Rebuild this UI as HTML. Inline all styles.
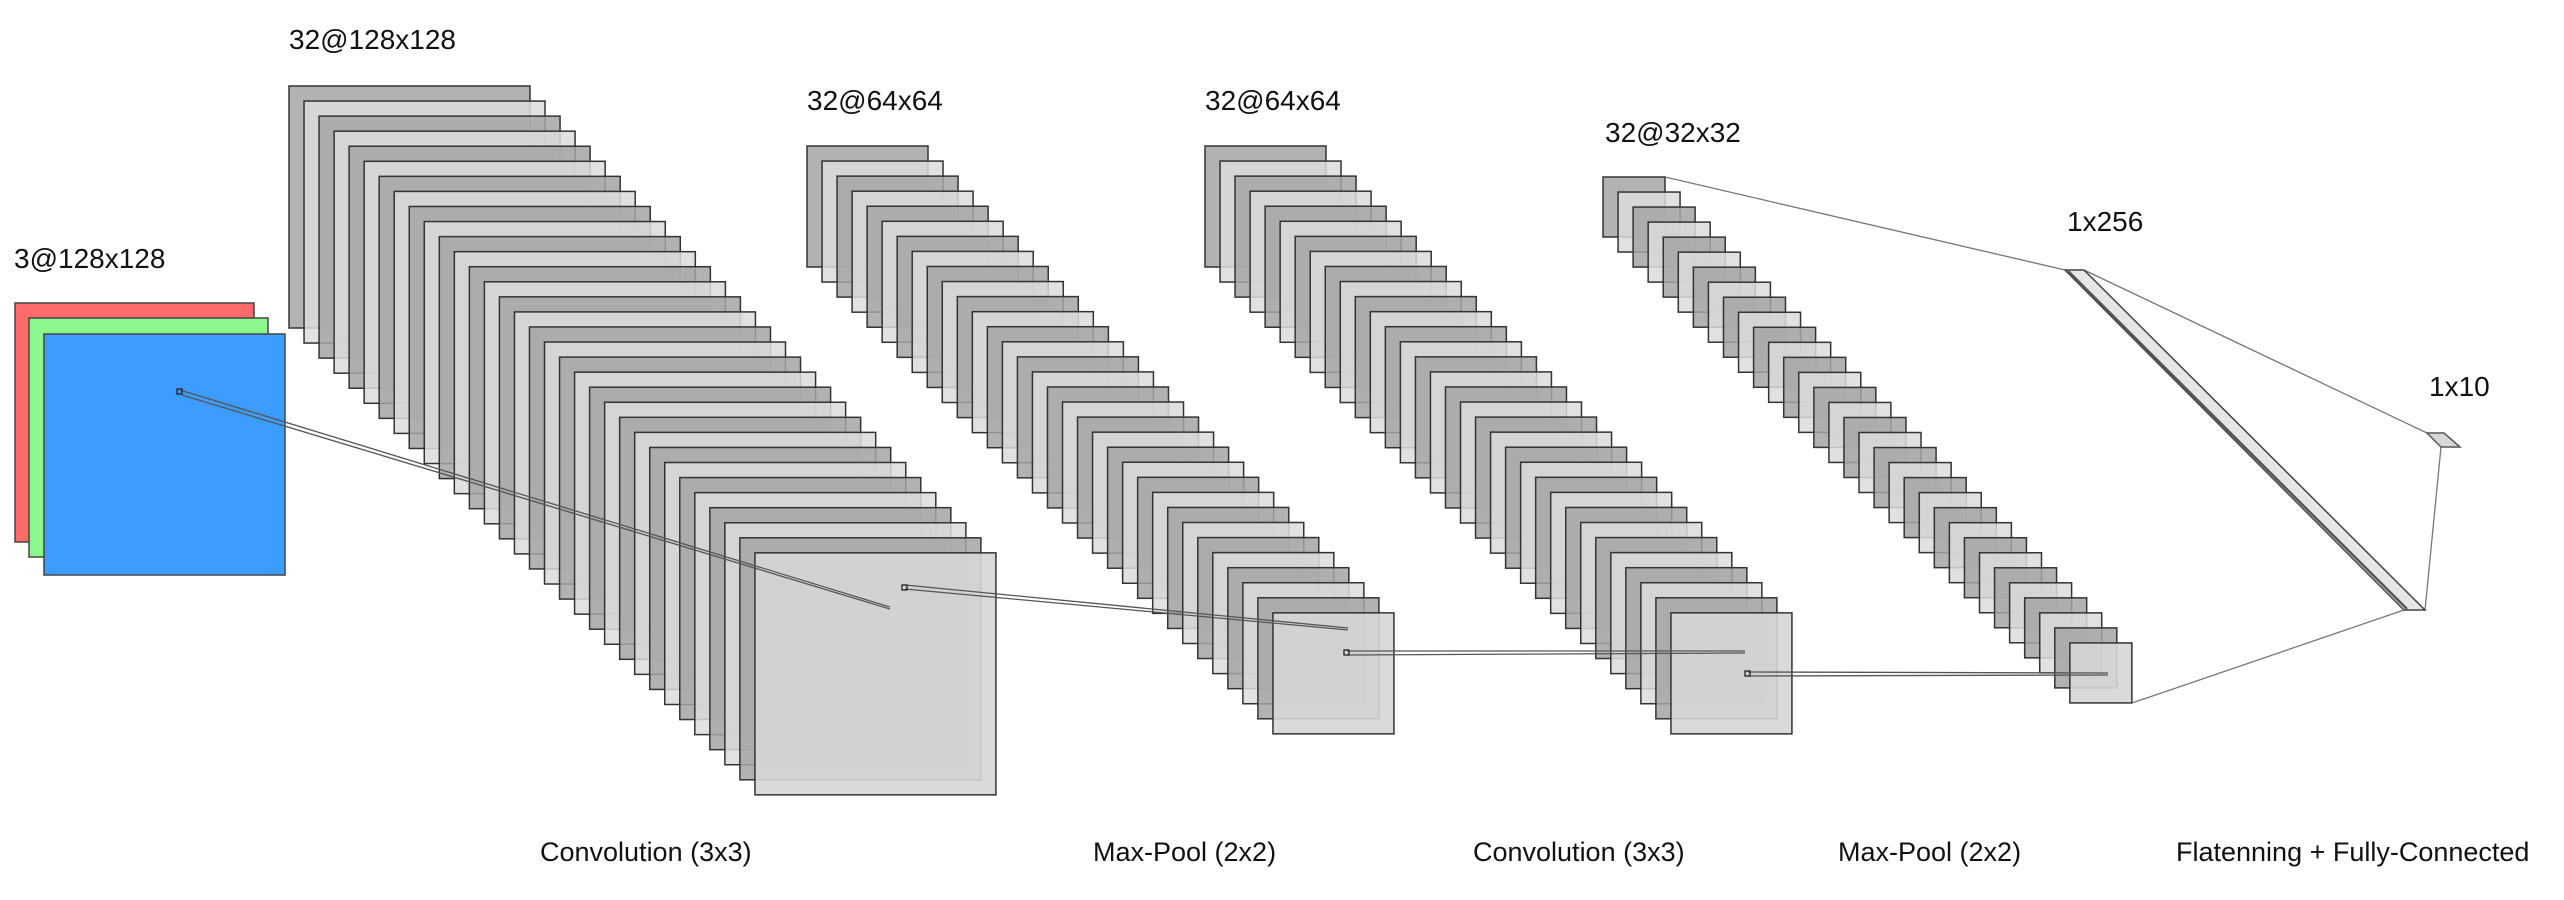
<!DOCTYPE html>
<html><head><meta charset="utf-8"><style>
html,body{margin:0;padding:0;background:#fff;}
svg{display:block;}
text{font-family:"Liberation Sans",Arial,sans-serif;fill:#111;}
</style></head><body>
<svg id="s" width="2564" height="900" viewBox="0 0 2564 900" xmlns="http://www.w3.org/2000/svg">
<rect x="15" y="303" width="239" height="239" fill="#ff6b6b" stroke="#444" stroke-width="1.5"/>
<rect x="29" y="318" width="239" height="239" fill="#8cf78c" stroke="#444" stroke-width="1.5"/>
<rect x="44" y="334" width="241" height="241" fill="#3d9cff" stroke="#444" stroke-width="1.5"/>
<g id="stacks"></g>
<g id="lines" stroke="#555" fill="none" stroke-width="1.3">
<line x1="180" y1="390" x2="890" y2="607"/>
<line x1="182" y1="395" x2="890" y2="609"/>
<rect x="177" y="389" width="5" height="5" stroke="#222"/>
<line x1="905" y1="585" x2="1348" y2="628"/>
<line x1="905" y1="589" x2="1348" y2="630"/>
<rect x="902" y="585" width="5" height="5" stroke="#222"/>
<line x1="1347" y1="651" x2="1745" y2="651"/>
<line x1="1347" y1="655" x2="1745" y2="653"/>
<rect x="1344" y="650" width="5" height="5" stroke="#222"/>
<line x1="1748" y1="672" x2="2108" y2="673"/>
<line x1="1748" y1="676" x2="2108" y2="675"/>
<rect x="1745" y="671" width="5" height="5" stroke="#222"/>
<line x1="1665" y1="177" x2="2065" y2="270" stroke="#777"/>
<line x1="2084" y1="270" x2="2427" y2="433" stroke="#777"/>
<line x1="2132" y1="703" x2="2404" y2="610" stroke="#777"/>
<line x1="2425" y1="610" x2="2441" y2="447" stroke="#777"/>
</g>
<polygon points="2065,270 2084,270 2425,610 2404,610" fill="#e6e6e6" stroke="#444" stroke-width="1.5"/>
<line x1="2068" y1="271" x2="2407" y2="609" stroke="#555" stroke-width="2.5"/>
<polygon points="2427,433 2444,433 2460,447 2441,447" fill="#d8d8d8" stroke="#555" stroke-width="1.5"/>
<g font-size="28">
<text x="14" y="268">3@128x128</text>
<text x="289" y="49">32@128x128</text>
<text x="807" y="110">32@64x64</text>
<text x="1205" y="110">32@64x64</text>
<text x="1605" y="142">32@32x32</text>
<text x="2067" y="231">1x256</text>
<text x="2429" y="396">1x10</text>
</g>
<g font-size="27">
<text x="540" y="861">Convolution (3x3)</text>
<text x="1093" y="861">Max-Pool (2x2)</text>
<text x="1473" y="861">Convolution (3x3)</text>
<text x="1838" y="861">Max-Pool (2x2)</text>
<text x="2176" y="861">Flatenning + Fully-Connected</text>
</g>
</svg>
<script>
var g=document.getElementById('stacks'),ns='http://www.w3.org/2000/svg';
function stack(x0,y0,w,h,dx,dy,n){
 for(var i=0;i<n;i++){
  var r=document.createElementNS(ns,'rect');
  r.setAttribute('x',x0+i*dx);r.setAttribute('y',y0+i*dy);
  r.setAttribute('width',w);r.setAttribute('height',h);
  var last=(i==n-1);
  r.setAttribute('fill',last?'#d6d6d6':(i%2==0?'#a4a4a4':'#dcdcdc'));
  r.setAttribute('fill-opacity',last?'0.9':'0.85');
  r.setAttribute('stroke','#333');r.setAttribute('stroke-width','1.5');
  g.appendChild(r);
 }
}
stack(289,86,241,242,15.03,15.06,32);
stack(807,146,121,121,15.03,15.06,32);
stack(1205,146,121,121,15.03,15.06,32);
stack(1603,177,62,60,15.06,15.03,32);
</script>
</body></html>
